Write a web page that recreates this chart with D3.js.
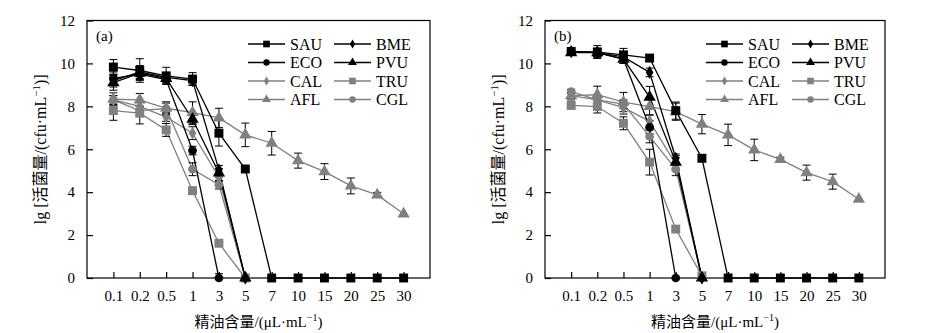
<!DOCTYPE html>
<html>
<head>
<meta charset="utf-8">
<script src="https://cdn.jsdelivr.net/npm/d3@7"></script>
<style>
  body { margin: 0; background: #fff; }
  svg text { font-family: "Liberation Serif", "Noto Sans CJK SC", serif; }
</style>
</head>
<body>
<svg id="chart" width="933" height="333"></svg>
<script>
// Categories on the x axis (essential oil dose, µL/mL)
const doses = ["0.1", "0.2", "0.5", "1", "3", "5", "7", "10", "15", "20", "25", "30"];
const yTicks = [0, 2, 4, 6, 8, 10, 12];

// Series, in legend order (row by row)
const seriesNames = ["SAU", "BME", "ECO", "PVU", "CAL", "TRU", "AFL", "CGL"];
const seriesColors = ["#000", "#000", "#000", "#000", "#808080", "#808080", "#808080", "#808080"];
const seriesSymbols = ["square", "diamond", "circle", "triangle", "diamond", "square", "triangle", "circle"];

// Panel (a) values, lg(cfu/mL)
const valuesA = [
  [9.83, 9.67, 9.42, 9.27, 6.75, 5.08, 0, 0, 0, 0, 0, 0],
  [9.2, 9.6, 9.35, 9.2, 5.04, 0],
  [9.3, 9.5, 9.25, 5.94, 0],
  [9.1, 9.55, 9.3, 7.4, 4.9, 0],
  [8.3, 8.0, 7.5, 6.75, 4.7, 0],
  [7.8, 7.68, 6.9, 4.07, 1.62, 0],
  [8.33, 8.3, 7.91, 7.71, 7.46, 6.67, 6.28, 5.47, 4.96, 4.29, 3.87, 2.99],
  [8.3, 7.8, 7.9, 5.07, 4.35, 0]
];
const errorsA = [
  [0.35, 0.55, 0.4, 0.3, 0.6, 0, 0, 0, 0, 0, 0, 0],
  [0.3, 0.3, 0.2, 0.2, 0.2, 0],
  [0.3, 0.3, 0.2, 0.2, 0.2, 0],
  [0.35, 0.3, 0.2, 0.25, 0.2, 0],
  [0.2, 0.2, 0.2, 0.3, 0.2, 0],
  [0.45, 0.5, 0.3, 0.15, 0.1, 0],
  [0.3, 0.3, 0.3, 0.5, 0.45, 0.55, 0.55, 0.35, 0.37, 0.37, 0.12, 0],
  [0.2, 0.2, 0.25, 0.3, 0.2, 0]
];

// Panel (b) values
const valuesB = [
  [10.56, 10.53, 10.4, 10.25, 7.8, 5.58, 0, 0, 0, 0, 0, 0],
  [10.55, 10.5, 10.3, 9.58, 5.58, 0],
  [10.55, 10.5, 10.2, 7.03, 0],
  [10.5, 10.5, 10.2, 8.43, 5.4, 0],
  [8.5, 8.3, 7.94, 7.3, 5.3, 0],
  [8.04, 7.99, 7.21, 5.4, 2.28, 0.1],
  [8.5, 8.54, 8.2, 7.99, 7.75, 7.17, 6.67, 5.97, 5.53, 4.91, 4.49, 3.67],
  [8.69, 8.3, 8.1, 6.6, 5.07, 0]
];
const errorsB = [
  [0.1, 0.3, 0.3, 0.15, 0.4, 0, 0, 0, 0, 0, 0, 0],
  [0.1, 0.2, 0.2, 0.2, 0.2, 0],
  [0.1, 0.2, 0.2, 0.3, 0, 0],
  [0.1, 0.2, 0.2, 0.5, 0.3, 0],
  [0.1, 0.2, 0.3, 0.3, 0.3, 0],
  [0.1, 0.3, 0.3, 0.6, 0.1, 0],
  [0.2, 0.4, 0.45, 0.4, 0.4, 0.45, 0.5, 0.5, 0.1, 0.35, 0.35, 0],
  [0.1, 0.2, 0.2, 0.3, 0.3, 0]
];

const svg = d3.select("#chart");
const plotTop = 20.5, plotBottom = 278;

const symbolTypes = {
  square: d3.symbolSquare,
  diamond: d3.symbolDiamond,
  circle: d3.symbolCircle,
  triangle: d3.symbolTriangle
};
const symbolSizes = { square: 80, diamond: 50, circle: 60, triangle: 66 };
const legendSizes = { square: 44, diamond: 24, circle: 32, triangle: 34 };

function drawPanel(left, right, label, values, errors) {
  const g = svg.append("g");

  const x = d3.scalePoint().domain(doses).range([left, right]).padding(1);
  const y = d3.scaleLinear().domain([0, 12]).range([plotBottom, plotTop]);

  // frame
  g.append("rect")
    .attr("x", left).attr("y", plotTop)
    .attr("width", right - left).attr("height", plotBottom - plotTop)
    .attr("fill", "none").attr("stroke", "#000").attr("stroke-width", 1.2);

  // axes with inward ticks
  const xAxis = g.append("g")
    .attr("transform", `translate(0,${plotBottom})`)
    .call(d3.axisBottom(x).tickSize(-6).tickPadding(12));
  const yAxis = g.append("g")
    .attr("transform", `translate(${left},0)`)
    .call(d3.axisLeft(y).tickValues(yTicks).tickSize(-6).tickPadding(12));
  [xAxis, yAxis].forEach(ax => {
    ax.select(".domain").remove();
    ax.selectAll("line").attr("stroke", "#000").attr("stroke-width", 1.2);
    ax.selectAll("text")
      .attr("fill", "#000")
      .style("font-size", "15px")
      .style("font-family", "'Liberation Serif', serif");
  });

  // axis titles
  const xt = g.append("text")
    .attr("x", (left + right) / 2).attr("y", 327)
    .attr("text-anchor", "middle")
    .style("font-size", "15px");
  xt.append("tspan").text("精油含量/(μL·mL");
  xt.append("tspan").attr("dy", -6).style("font-size", "10px").text("−1");
  xt.append("tspan").attr("dy", 6).text(")");

  const yt = g.append("text")
    .attr("transform", `translate(${left - 41},${(plotTop + plotBottom) / 2}) rotate(-90)`)
    .attr("text-anchor", "middle")
    .style("font-size", "16px");
  yt.append("tspan").text("lg [活菌量/(cfu·mL");
  yt.append("tspan").attr("dy", -6).style("font-size", "11px").text("−1");
  yt.append("tspan").attr("dy", 6).text(")]");

  g.append("text")
    .attr("x", left + 9).attr("y", plotTop + 20)
    .style("font-size", "15px")
    .text(label);

  const series = seriesNames.map((name, i) => ({
    name,
    color: seriesColors[i],
    symbol: seriesSymbols[i],
    points: values[i].map((v, j) => ({ dose: doses[j], v, e: errors[i][j] || 0 }))
      .filter(p => p.v != null)
  }));

  const line = d3.line().x(p => x(p.dose)).y(p => y(p.v));

  // lines (gray under black)
  const order = [4, 5, 6, 7, 0, 1, 2, 3];
  order.forEach(i => {
    const s = series[i];
    g.append("path")
      .attr("d", line(s.points))
      .attr("fill", "none")
      .attr("stroke", s.color)
      .attr("stroke-width", 1.3);
  });

  // error bars
  series.forEach(s => {
    s.points.filter(p => p.e > 0).forEach(p => {
      const cx = x(p.dose), y1 = y(p.v + p.e), y2 = y(Math.max(0, p.v - p.e));
      g.append("line").attr("x1", cx).attr("x2", cx).attr("y1", y1).attr("y2", y2)
        .attr("stroke", "#000").attr("stroke-width", 1);
      [y1, y2].forEach(yy => g.append("line")
        .attr("x1", cx - 4).attr("x2", cx + 4).attr("y1", yy).attr("y2", yy)
        .attr("stroke", "#000").attr("stroke-width", 1));
    });
  });

  // markers
  order.forEach(i => {
    const s = series[i];
    g.selectAll(null)
      .data(s.points)
      .enter()
      .append("path")
      .attr("transform", p => `translate(${x(p.dose)},${y(p.v)})`)
      .attr("d", d3.symbol().type(symbolTypes[s.symbol]).size(symbolSizes[s.symbol]))
      .attr("fill", s.color);
  });

  // legend, two columns
  const legX = [left + 161, left + 247];
  const legY = [44, 62.5, 81, 99.5];
  series.forEach((s, i) => {
    const lx = legX[i % 2], ly = legY[Math.floor(i / 2)];
    g.append("line")
      .attr("x1", lx).attr("x2", lx + 37).attr("y1", ly).attr("y2", ly)
      .attr("stroke", s.color).attr("stroke-width", 1.3);
    g.append("path")
      .attr("transform", `translate(${lx + 18.5},${ly})`)
      .attr("d", d3.symbol().type(symbolTypes[s.symbol]).size(legendSizes[s.symbol]))
      .attr("fill", s.color);
    g.append("text")
      .attr("x", lx + 42).attr("y", ly + 5.5)
      .style("font-size", "16px")
      .text(s.name);
  });
}

drawPanel(87, 430, "(a)", valuesA, errorsA);
drawPanel(545, 885, "(b)", valuesB, errorsB);
</script>
</body>
</html>
